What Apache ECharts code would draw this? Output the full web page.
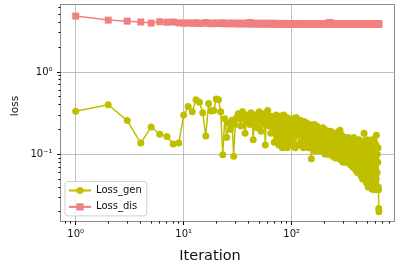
<!DOCTYPE html>
<html><head><meta charset="utf-8">
<script src="https://cdn.jsdelivr.net/npm/echarts@6/dist/echarts.min.js"></script>
<style>html,body{margin:0;padding:0;background:#fff}#c{width:402px;height:272px}</style>
</head><body><div id="c"></div><script>
// ---- data ----
const seriesNames = ['Loss_gen', 'Loss_dis'];
// iteration segments: start and step; lengths come from the value arrays
const segStarts = [1, 102, 303];
const segSteps = [1, 2, 3];

const genA = [0.334,0.40,0.257,0.137,0.215,0.175,0.165,0.133,0.137,0.30,
 0.38,0.33,0.46,0.43,0.32,0.167,0.415,0.335,0.34,0.47,
 0.46,0.33,0.099,0.27,0.16,0.24,0.20,0.26,0.095,0.23,
 0.28,0.31,0.27,0.22,0.33,0.29,0.18,0.25,0.30,0.27,
 0.23,0.32,0.28,0.15,0.26,0.30,0.24,0.21,0.27,0.33,
 0.29,0.19,0.25,0.31,0.28,0.23,0.13,0.26,0.30,0.34,
 0.27,0.22,0.25,0.18,0.29,0.24,0.28,0.22,0.14,0.19,
 0.26,0.30,0.16,0.21,0.27,0.13,0.18,0.24,0.29,0.15,
 0.20,0.12,0.26,0.30,0.17,0.22,0.14,0.25,0.19,0.28,
 0.12,0.16,0.23,0.27,0.14,0.20,0.25,0.13,0.18,0.22];
const genB = [0.27,0.15,0.22,0.12,0.28,0.17,0.24,0.13,0.21,0.26,
 0.14,0.19,0.23,0.12,0.25,0.16,0.20,0.13,0.24,0.15,
 0.21,0.12,0.23,0.17,0.14,0.088,0.22,0.13,0.20,0.16,
 0.23,0.11,0.19,0.14,0.22,0.12,0.18,0.21,0.11,0.17,
 0.13,0.20,0.12,0.19,0.15,0.11,0.21,0.14,0.18,0.12,
 0.20,0.10,0.17,0.13,0.19,0.11,0.16,0.12,0.19,0.10,
 0.15,0.18,0.11,0.14,0.19,0.10,0.16,0.12,0.18,0.095,
 0.15,0.12,0.17,0.10,0.14,0.18,0.09,0.13,0.16,0.10,
 0.17,0.12,0.14,0.09,0.16,0.11,0.19,0.10,0.13,0.196,
 0.11,0.15,0.085,0.14,0.17,0.09,0.12,0.16,0.08,0.14];
const genC = [0.15,0.09,0.13,0.16,0.08,0.12,0.15,0.09,0.14,0.11,
 0.16,0.08,0.13,0.10,0.15,0.075,0.12,0.14,0.08,0.11,
 0.15,0.07,0.13,0.10,0.16,0.075,0.12,0.09,0.14,0.065,
 0.11,0.15,0.08,0.12,0.06,0.10,0.14,0.07,0.12,0.09,
 0.15,0.06,0.11,0.08,0.13,0.055,0.10,0.14,0.07,0.12,
 0.05,0.09,0.13,0.065,0.11,0.18,0.08,0.12,0.05,0.10,
 0.14,0.06,0.09,0.045,0.12,0.07,0.15,0.05,0.10,0.04,
 0.13,0.07,0.11,0.045,0.09,0.14,0.05,0.08,0.12,0.04,
 0.10,0.06,0.13,0.038,0.09,0.15,0.05,0.11,0.07,0.04,
 0.12,0.06,0.10,0.037,0.14,0.07,0.05,0.11,0.04,0.09,
 0.13,0.05,0.17,0.04,0.12,0.06,0.10,0.038,0.08,0.12,
 0.04,0.037,0.022,0.020];

const disA = [4.78,4.27,4.15,4.05,3.93,4.07,4.02,4.05,3.96,3.92,
 3.95,3.90,3.97,3.88,3.93,3.99,3.91,3.86,3.94,3.89,
 3.92,3.87,3.96,3.90,3.84,3.91,3.88,3.93,3.86,3.90,
 3.85,3.92,3.88,3.83,3.90,3.87,3.93,3.85,3.89,3.84,
 4.00,3.86,3.88,3.83,3.90,3.85,3.92,3.87,3.84,3.89,
 3.86,3.83,3.90,3.88,3.86,3.92,3.87,3.85,3.89,3.84,
 3.88,3.86,3.83,3.90,3.85,3.87,3.92,3.84,3.88,3.86,
 3.83,3.89,3.85,3.87,3.84,3.90,3.86,3.83,3.88,3.85,
 3.87,3.84,3.89,3.86,3.83,3.88,3.85,3.90,3.84,3.87,
 3.85,3.83,3.88,3.86,3.84,3.89,3.85,3.87,3.83,3.86];
const disB = [3.86,3.84,3.88,3.85,3.83,3.87,3.85,3.89,3.84,3.86,
 3.83,3.87,3.85,3.88,3.84,3.86,3.83,3.87,3.85,3.84,
 3.88,3.86,3.83,3.85,3.87,3.84,3.86,3.88,3.83,3.85,
 3.87,3.84,3.86,3.83,3.88,3.85,3.84,3.87,3.85,3.83,
 3.86,3.88,3.84,3.85,3.87,3.83,3.86,3.84,3.88,3.85,
 3.83,3.87,3.85,3.84,3.86,3.88,3.83,3.85,3.87,3.92,
 3.96,3.99,4.00,3.95,3.90,3.86,3.84,3.87,3.85,3.83,
 3.86,3.84,3.88,3.85,3.83,3.87,3.84,3.86,3.85,3.83,
 3.87,3.85,3.84,3.86,3.88,3.83,3.85,3.87,3.84,3.86,
 3.83,3.85,3.87,3.84,3.86,3.83,3.85,3.84,3.86,3.83];
const disC = [3.84,3.82,3.85,3.83,3.81,3.84,3.82,3.85,3.83,3.80,
 3.84,3.82,3.83,3.81,3.85,3.82,3.84,3.80,3.83,3.82,
 3.84,3.81,3.83,3.85,3.82,3.80,3.84,3.82,3.83,3.81,
 3.84,3.82,3.80,3.83,3.85,3.81,3.83,3.82,3.84,3.80,
 3.83,3.81,3.84,3.82,3.80,3.83,3.85,3.81,3.82,3.84,
 3.80,3.83,3.82,3.84,3.81,3.83,3.80,3.82,3.84,3.81,
 3.83,3.82,3.80,3.84,3.82,3.81,3.83,3.80,3.82,3.84,
 3.81,3.83,3.82,3.80,3.84,3.81,3.83,3.82,3.80,3.83,
 3.81,3.84,3.82,3.80,3.83,3.81,3.82,3.84,3.80,3.83,
 3.82,3.81,3.83,3.80,3.84,3.82,3.81,3.83,3.80,3.82,
 3.84,3.81,3.83,3.80,3.82,3.81,3.83,3.80,3.82,3.81,
 3.83,3.80,3.82,3.81];

const xTickValues = [1, 10, 100];
const xTickLabels = ['10\u2070', '10\u00B9', '10\u00B2'];
const yTickValues = [0.1, 1];
const yTickLabels = ['10\u207B\u00B9', '10\u2070'];
const xTitle = 'Iteration';
const yTitle = 'loss';

// ---- build ----
function buildSeries(segs) {
  const out = [];
  segs.forEach((vals, s) => {
    vals.forEach((v, i) => out.push([segStarts[s] + i * segSteps[s], v]));
  });
  return out;
}
const genData = buildSeries([genA, genB, genC]);
const disData = buildSeries([disA, disB, disC]);

const FONT = 'DejaVu Sans';
const X_MIN = 0.723, X_MAX = 895, Y_MIN = 0.01526, Y_MAX = 6.61;
function fmt(vals, labels) {
  return function (v) {
    for (let i = 0; i < vals.length; i++) {
      if (Math.abs(Math.log10(v) - Math.log10(vals[i])) < 1e-6) return labels[i];
    }
    return '';
  };
}

const chart = echarts.init(document.getElementById('c'), null, {renderer: 'canvas'});
chart.setOption({
  animation: false,
  backgroundColor: '#fff',
  grid: {left: 60.5, right: 7.5, top: 4.5, bottom: 50.5, show: true,
    borderColor: '#000', borderWidth: 1, backgroundColor: 'transparent', containLabel: false},
  xAxis: {type: 'log', logBase: 10, min: X_MIN, max: X_MAX,
    axisLine: {show: false}, axisTick: {show: false},
    axisLabel: {formatter: fmt(xTickValues, xTickLabels), showMinLabel: false, showMaxLabel: false,
      fontSize: 10, fontFamily: FONT, color: '#111', margin: 8},
    splitLine: {show: true, lineStyle: {color: '#b0b0b0', width: 0.8}},
    minorTick: {show: false}, minorSplitLine: {show: false}},
  yAxis: {type: 'log', logBase: 10, min: Y_MIN, max: Y_MAX,
    axisLine: {show: false}, axisTick: {show: false},
    axisLabel: {formatter: fmt(yTickValues, yTickLabels), showMinLabel: false, showMaxLabel: false,
      fontSize: 10, fontFamily: FONT, color: '#111', margin: 8},
    splitLine: {show: true, lineStyle: {color: '#b0b0b0', width: 0.8}}},
  legend: {orient: 'vertical', left: 65, top: 181.5, padding: [4, 5, 4, 3],
    itemWidth: 22, itemHeight: 9, itemGap: 6.4,
    borderColor: '#d0d0d0', borderWidth: 1, borderRadius: 3,
    backgroundColor: 'rgba(255,255,255,0.8)',
    textStyle: {fontSize: 10, fontFamily: FONT, color: '#111', lineHeight: 10},
    data: seriesNames},
  series: [
    {type: 'line', name: seriesNames[0], data: genData, symbol: 'circle', symbolSize: 7,
      showSymbol: true, showAllSymbol: true, silent: true,
      lineStyle: {width: 1.5, color: '#bfbf00'}, itemStyle: {color: '#bfbf00', borderWidth: 0}},
    {type: 'line', name: seriesNames[1], data: disData, symbol: 'rect', symbolSize: 7,
      showSymbol: true, showAllSymbol: true, silent: true,
      lineStyle: {width: 1.5, color: '#f08080'}, itemStyle: {color: '#f08080', borderWidth: 0}}
  ]
});

// ticks (major + minor) drawn through the axis scales
const px = v => chart.convertToPixel({xAxisIndex: 0}, v);
const py = v => chart.convertToPixel({yAxisIndex: 0}, v);
const snap = p => Math.round(p - 0.5) + 0.5;
const bottom = py(Y_MIN), left = px(X_MIN);
const g = [];
function tickX(v, len) {
  const x = snap(px(v));
  g.push({type: 'line', shape: {x1: x, y1: bottom, x2: x, y2: bottom + len}, style: {stroke: '#000', lineWidth: 1}, silent: true});
}
function tickY(v, len) {
  const y = snap(py(v));
  g.push({type: 'line', shape: {x1: left, y1: y, x2: left - len, y2: y}, style: {stroke: '#000', lineWidth: 1}, silent: true});
}
xTickValues.forEach(v => tickX(v, 3.5));
yTickValues.forEach(v => tickY(v, 3.5));
[0.1, 1, 10, 100].forEach(d => { for (let k = 2; k <= 9; k++) { const v = d * k; if (v > X_MIN && v < X_MAX) tickX(v, 2); } });
[0.01, 0.1, 1].forEach(d => { for (let k = 2; k <= 9; k++) { const v = d * k; if (v > Y_MIN && v < Y_MAX) tickY(v, 2); } });
g.push({type: 'text', x: 210, y: 256, silent: true,
  style: {text: xTitle, fontSize: 14.5, fontFamily: FONT, fill: '#111', align: 'center', verticalAlign: 'middle'}});
g.push({type: 'text', x: 15, y: 106, rotation: Math.PI / 2, silent: true,
  style: {text: yTitle, fontSize: 10.5, fontFamily: FONT, fill: '#111', align: 'center', verticalAlign: 'middle'}});
chart.setOption({graphic: g});
</script></body></html>
